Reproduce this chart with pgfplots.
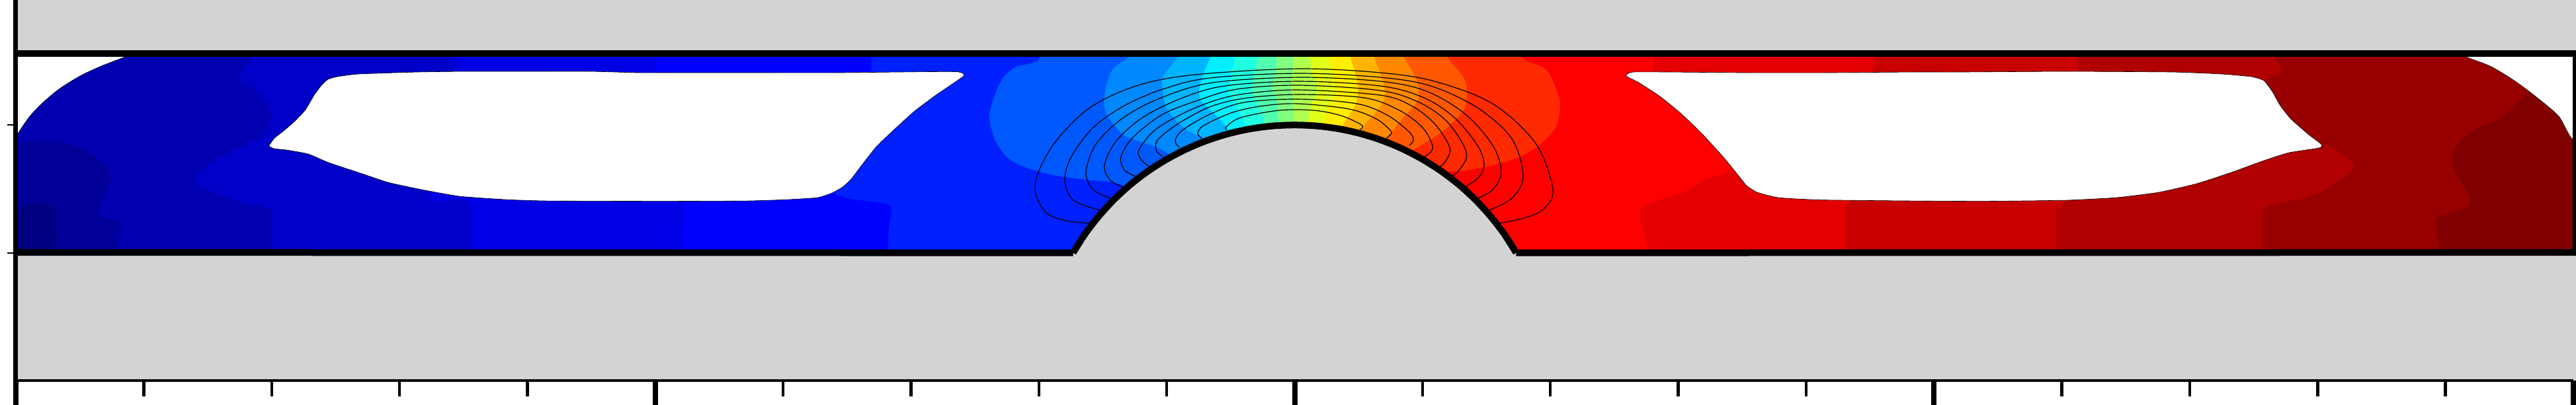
\documentclass[border=0pt]{standalone}
\usepackage{pgfplots}
\pgfplotsset{compat=1.18}
\definecolor{g}{HTML}{D3D3D3}
\definecolor{L1}{HTML}{000080}\definecolor{L2}{HTML}{000098}\definecolor{L3}{HTML}{0000B0}
\definecolor{L4}{HTML}{0000C8}\definecolor{L5}{HTML}{0000E4}\definecolor{L6}{HTML}{0000FF}
\definecolor{L7}{HTML}{0020FF}\definecolor{L8}{HTML}{0058FF}\definecolor{L9}{HTML}{0088FF}
\definecolor{L10}{HTML}{00B4FF}\definecolor{L11}{HTML}{00EEFF}\definecolor{L12}{HTML}{20FFE0}
\definecolor{L13}{HTML}{50FFB0}\definecolor{L14}{HTML}{80FF80}\definecolor{L15}{HTML}{B0FF50}
\definecolor{L16}{HTML}{E0FF1A}\definecolor{L17}{HTML}{FFEE00}\definecolor{L18}{HTML}{FFB400}
\definecolor{L19}{HTML}{FF8800}\definecolor{L20}{HTML}{FF5800}\definecolor{L21}{HTML}{FF2A00}
\definecolor{L22}{HTML}{FF0000}\definecolor{L23}{HTML}{E40000}\definecolor{L24}{HTML}{C80000}
\definecolor{L25}{HTML}{B00000}\definecolor{L26}{HTML}{980000}\definecolor{L27}{HTML}{800000}
\pgfkeys{/pgfplots/table/px/.style={header=false,x expr=(\thisrowno{0}-1957.5)/966.75,y expr=(382.5-\thisrowno{1})/966.75}}
\pgfplotsset{reg/.style={draw=none,fill=#1,forget plot,smooth,tension=0.5},
 cont/.style={black,line width=0.3pt,smooth,tension=0.55,forget plot}}
\begin{document}
\begin{tikzpicture}
\useasboundingbox (0,0) rectangle (973.75pt,153pt);
\begin{axis}[at={(6pt,9pt)},anchor=south west,scale only axis,width=966.75pt,height=144pt,
 xmin=-2,xmax=2,ymin=-0.2,ymax=0.39566,clip=false,axis on top,
 axis x line=bottom,axis y line=left,
 x axis line style={-,line width=1.1pt},y axis line style={-,line width=1.75pt},
 xtick={-2,-1,0,1,2},minor x tick num=4,ytick={0,0.2},
 xticklabels={},yticklabels={},tick align=outside,
 major tick length=10pt,minor tick length=6pt,
 major x tick style={black,line width=2pt},
 minor x tick style={black,line width=1.1pt},
 major y tick style={black,line width=0.45pt,dash pattern=on 0pt off 6.7pt on 3.3pt off 10pt}]
% base level and the two patches at the far left
\addplot[reg=L3,sharp plot] table[px] {
24 70
3893 70
3893 395
24 395
};
\addplot[reg=L2] table[px] {
26 217
57 212
96 215
134 230
159 250
167 269
159 293
147 318
153 329
179 334
182 347
173 382
173 395
26 395
};
\addplot[reg=L1] table[px] {
26 330
29 320
35 312
57 308
80 314
86 332
83 343
87 359
80 382
80 395
26 395
};
% every further level: everything to the right of its boundary
\addplot[reg=L4] table[px] {
386 70
386 81
373 100
360 119
383 133
405 160
410 176
402 199
376 217
332 238
300 262
295 271
306 285
357 304
402 314
410 324
410 383
410 395
430 395
3893 395
3893 70
};
\addplot[reg=L5] table[px] {
687 70
687 81
687 120
650 293
695 300
708 308
713 324
713 383
713 395
733 395
3893 395
3893 70
};
\addplot[reg=L6] table[px] {
992 70
992 81
992 120
1030 290
1030 383
1030 395
1050 395
3893 395
3893 70
};
\addplot[reg=L7] table[px] {
1316 70
1316 81
1313 120
1250 285
1258 291
1281 300
1338 308
1348 316
1344 347
1343 383
1343 395
1363 395
3893 395
3893 70
};
\addplot[reg=L8] table[px] {
1573 70
1573 81
1573 86
1567 93
1550 98
1536 101
1517 117
1504 144
1496 176
1504 211
1523 238
1550 253
1593 265
1643 272
1677 275
1697 280
1730 290
1957 300
2280 395
3893 395
3893 70
};
\addplot[reg=L9] table[px] {
1707 70
1707 86
1682 105
1670 143
1673 173
1697 203
1717 212
1750 223
1767 233
1790 245
1957 300
2280 395
3893 395
3893 70
};
\addplot[reg=L10] table[px] {
1780 70
1780 86
1758 117
1758 137
1763 163
1783 187
1800 200
1817 207
1835 220
1957 300
2280 395
3893 395
3893 70
};
\addplot[reg=L11] table[px] {
1830 70
1830 86
1820 110
1813 137
1817 153
1837 173
1855 193
1865 215
1957 300
2280 395
3893 395
3893 70
};
\addplot[reg=L12] table[px] {
1868 70
1868 86
1862 110
1857 140
1873 167
1883 190
1890 215
1957 300
2280 395
3893 395
3893 70
};
\addplot[reg=L13] table[px] {
1902 70
1902 86
1897 110
1892 137
1903 160
1912 187
1915 215
1957 300
2280 395
3893 395
3893 70
};
\addplot[reg=L14] table[px] {
1930 70
1930 86
1928 117
1922 132
1930 153
1933 185
1935 215
1957 300
2280 395
3893 395
3893 70
};
\addplot[reg=L15] table[px] {
1956 70
1956 86
1955 110
1952 130
1955 147
1956 170
1956 215
1960 300
2280 395
3893 395
3893 70
};
\addplot[reg=L16] table[px] {
1981 70
1981 86
1983 110
1992 133
1983 157
1978 185
1975 215
1980 300
2280 395
3893 395
3893 70
};
\addplot[reg=L17] table[px] {
2009 70
2009 86
2018 123
2018 140
2007 167
2002 187
1995 215
2000 300
2280 395
3893 395
3893 70
};
\addplot[reg=L18] table[px] {
2042 70
2042 86
2053 127
2050 157
2030 190
2020 215
2030 300
2280 395
3893 395
3893 70
};
\addplot[reg=L19] table[px] {
2078 70
2078 86
2093 130
2090 157
2060 193
2040 225
2040 300
2280 395
3893 395
3893 70
};
\addplot[reg=L20] table[px] {
2123 70
2123 86
2143 123
2143 153
2117 183
2097 210
2070 240
2060 300
2280 395
3893 395
3893 70
};
\addplot[reg=L21] table[px] {
2188 70
2188 86
2213 117
2218 140
2213 167
2180 200
2137 227
2110 250
2100 300
2280 395
3893 395
3893 70
};
\addplot[reg=L22] table[px] {
2300 70
2300 86
2313 94
2338 105
2354 137
2359 160
2351 195
2319 226
2274 246
2217 258
2188 260
2170 270
2280 395
3893 395
3893 70
};
\addplot[reg=L23] table[px] {
2504 70
2504 81
2507 120
2615 246
2574 273
2542 293
2491 308
2480 324
2485 351
2494 383
2494 395
2514 395
3893 395
3893 70
};
\addplot[reg=L24] table[px] {
2831 70
2831 81
2831 120
2797 300
2791 310
2791 383
2791 395
2811 395
3893 395
3893 70
};
\addplot[reg=L25] table[px] {
3141 70
3141 81
3141 120
3120 304
3109 316
3109 383
3109 395
3129 395
3893 395
3893 70
};
\addplot[reg=L26] table[px] {
3439 70
3439 86
3450 111
3426 123
3420 200
3505 224
3515 220
3538 230
3560 252
3538 273
3493 297
3429 312
3422 332
3422 383
3422 395
3442 395
3893 395
3893 70
};
\addplot[reg=L27] table[px] {
3825 130
3825 135
3806 156
3777 180
3735 199
3713 222
3707 246
3719 273
3735 300
3729 314
3688 328
3683 340
3691 383
3691 395
3711 395
3893 395
3893 130
};
% the two empty cavities
\addplot[fill=white,draw=black,line width=0.15pt,smooth,tension=0.3,forget plot] table[px] {
407 220
415 209
429 198
446 183
462 166
475 144
486 129
496 120
510 116
542 112
631 109
702 108
797 108
893 108
963 110
1000 110
1147 110
1268 110
1402 108.5
1446 108.5
1456 111
1457 115
1440 127
1415 144
1383 168
1351 197
1325 222
1306 246
1287 271
1274 283
1258 292
1236 299
1191 302
1128 304
1000 304.5
829 304
765 302
695 297
638 287
587 276
548 263
497 246
466 233
434 227
415 225
408 222
407 220
};
\addplot[fill=white,draw=black,line width=0.15pt,smooth,tension=0.3,forget plot] table[px] {
2459 113
2469 109
2523 109
2638 110
2765 110
2893 109
2964 109
3123 108
3283 109
3359 112
3404 116
3423 122
3436 139
3448 160
3464 180
3490 203
3506 215
3511 220
3506 224
3461 231
3423 243
3372 261.5
3321 278
3264 291
3200 299
3123 303
3002 304.5
2893 304
2753 302.5
2689 299
2657 291
2641 281
2628 265
2606 238
2574 203
2542 172
2510 146
2478 125
2460 116
2459 113
};
% empty corners
\addplot[fill=white,draw=black,line width=0.15pt,smooth,tension=0.5,forget plot] table[px] {
20 80
195 80
189 86
153 100
121 115
89 135
64 156
45 176
29 199
20 215
};
\addplot[fill=white,draw=black,line width=0.15pt,smooth,tension=0.5,forget plot] table[px] {
3725 80
3729 86
3767 101
3806 125
3844 154
3869 176
3893 208
3893 80
};
% contour lines
\addplot[cont] table[px] {
1650 338
1612 334
1582 322
1566 293
1569 263
1594 217
1635 173
1676 147
1735 125
1817 112
1964 104
2087 110
2169 123
2257 157
2322 217
2348 287
2333 317
2304 330
2266 338
};
\addplot[cont] table[px] {
1663 318
1623 303
1610 273
1620 237
1653 193
1700 160
1758 135
1829 118
1964 111
2087 117
2163 130
2234 163
2286 210
2303 267
2286 300
2252 318
};
\addplot[cont] table[px] {
1682 301
1653 287
1642 260
1658 217
1700 177
1758 147
1834 125
1964 117
2087 123
2157 138
2216 173
2257 220
2270 260
2257 287
2234 300
};
\addplot[cont] table[px] {
1700 284
1679 273
1670 250
1688 213
1729 177
1788 148
1852 130
1964 123
2087 130
2151 147
2198 177
2234 220
2244 250
2234 270
2213 284
};
\addplot[cont] table[px] {
1717 267
1700 257
1695 237
1714 207
1758 173
1811 152
1870 135
1964 129
2087 137
2146 155
2187 183
2213 220
2217 240
2204 260
2195 267
};
\addplot[cont] table[px] {
1738 252
1726 242
1722 227
1746 197
1788 172
1834 153
1881 142
1964 136
2087 144
2134 160
2169 187
2192 223
2187 242
2178 252
};
\addplot[cont] table[px] {
1758 237
1748 227
1752 210
1788 183
1834 160
1887 148
1964 143
2063 148
2116 167
2151 193
2166 220
2163 230
2154 237
};
\addplot[cont] table[px] {
1783 223
1777 213
1788 197
1829 173
1881 155
1964 150
2052 157
2099 175
2131 200
2137 212
2131 220
};
\addplot[cont] table[px] {
1817 209
1811 202
1820 190
1864 170
1911 160
1964 157
2040 165
2081 180
2102 197
2103 203
2096 209
};
\addplot[cont] table[px] {
1855 196
1854 192
1876 178
1934 167
1987 167
2028 175
2057 188
2060 193
2056 196
};
% walls: upper block, lower block with the circular bump
\addplot[reg=g,sharp plot] table[px] {
24 0
3897 0
3897 81
24 81
};
\addplot[reg=g,sharp plot] table[px] {
24 382
1622.6 382.5
1640.7 354
1661.3 327.3
1684.1 302.4
1708.9 279.6
1735.7 259.1
1764.15 241
1794.1 225.4
1825.2 212.5
1857.4 202.3
1890.35 195
1923.8 190.6
1957.5 189.15
1991.2 190.6
2024.65 195
2057.6 202.3
2089.8 212.5
2120.9 225.4
2150.85 241
2179.3 259.1
2206.1 279.6
2230.9 302.4
2253.7 327.3
2274.3 354
2292.4 382.5
3897 382
3897 576
24 576
};
\addplot[black,line width=2.5pt,forget plot] table[px] {
24 81
3893 81
};
\addplot[black,line width=1.75pt,forget plot] table[px] {
3893.5 76
3893.5 387
};
\addplot[black,line width=2.5pt,forget plot] table[px] {
24 382
1622.6 382.5
};
\addplot[black,line width=2.5pt,forget plot] table[px] {
2292.4 382.5
3897 382
};
\addplot[black,line width=2.5pt,smooth,tension=0.5,forget plot] table[px] {
1622.6 382.5
1640.7 354
1661.3 327.3
1684.1 302.4
1708.9 279.6
1735.7 259.1
1764.15 241
1794.1 225.4
1825.2 212.5
1857.4 202.3
1890.35 195
1923.8 190.6
1957.5 189.15
1991.2 190.6
2024.65 195
2057.6 202.3
2089.8 212.5
2120.9 225.4
2150.85 241
2179.3 259.1
2206.1 279.6
2230.9 302.4
2253.7 327.3
2274.3 354
2292.4 382.5
};
\end{axis}
\end{tikzpicture}
\end{document}
